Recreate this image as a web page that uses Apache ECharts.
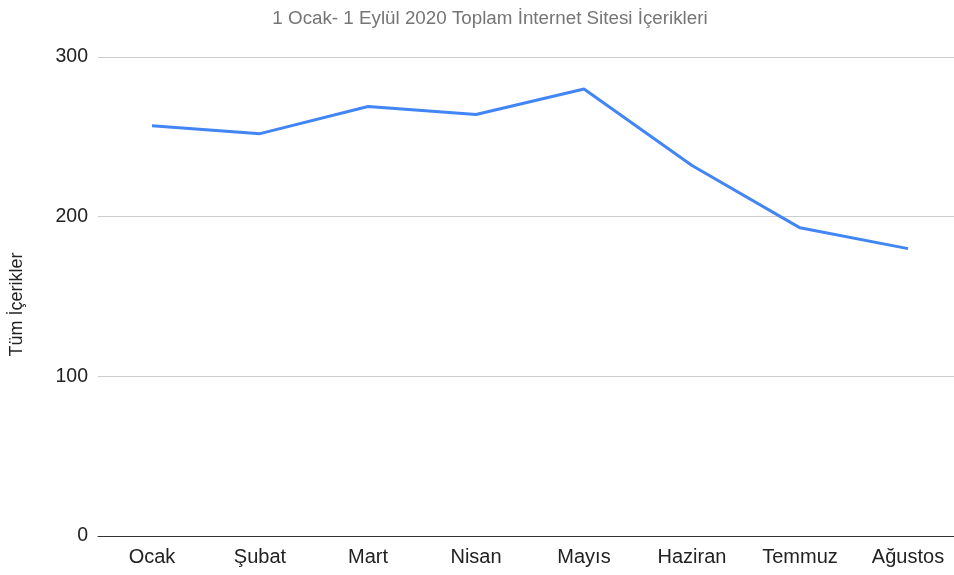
<!DOCTYPE html>
<html><head><meta charset="utf-8">
<script src="https://cdn.jsdelivr.net/npm/echarts@6/dist/echarts.min.js"></script>
<style>html,body{margin:0;padding:0;background:#fff;overflow:hidden}#c{width:962px;height:575px}</style>
</head><body><div id="c"></div>
<script>
const categories = ["Ocak","Şubat","Mart","Nisan","Mayıs","Haziran","Temmuz","Ağustos"];
const values = [257,252,269,264,280,232,193,180];
const titleText = "1 Ocak- 1 Eylül 2020 Toplam İnternet Sitesi İçerikleri";
const yAxisTitle = "Tüm İçerikler";

const chart = echarts.init(document.getElementById('c'));
chart.setOption({
  animation:false,
  backgroundColor:'#fff',
  title:{text:titleText,left:485,textAlign:'center',top:4,
    textStyle:{fontFamily:'Liberation Sans',fontSize:18.8,fontWeight:'normal',color:'#757575'}},
  grid:{left:98,top:57,right:0,height:479},
  xAxis:{type:'category',data:categories,boundaryGap:true,
    axisLine:{lineStyle:{color:'#333',width:1}},
    axisTick:{show:false},
    axisLabel:{margin:11,fontFamily:'Liberation Sans',fontSize:20,color:'#222'}},
  yAxis:{type:'value',min:0,max:300,interval:100,
    name:yAxisTitle,nameLocation:'middle',nameGap:72,nameRotate:90,
    nameTextStyle:{fontFamily:'Liberation Sans',fontSize:18,color:'#222',padding:[0,16,0,0]},
    axisLine:{show:false},axisTick:{show:false},
    axisLabel:{margin:10,fontFamily:'Liberation Sans',fontSize:19.5,color:'#222'},
    splitLine:{lineStyle:{color:'#cccccc',width:1}}},
  series:[{type:'line',data:values,showSymbol:false,symbol:'none',
    lineStyle:{color:'#4285F4',width:3},itemStyle:{color:'#4285F4'}}]
});
</script></body></html>
